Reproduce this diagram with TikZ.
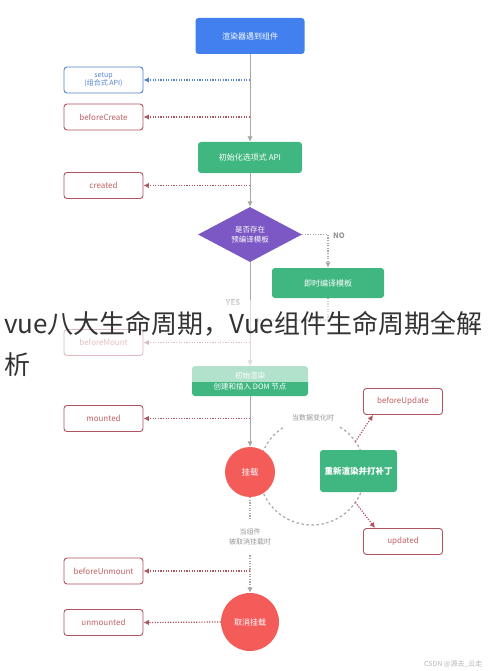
\documentclass[tikz,border=0pt]{standalone}
\usepackage{fontspec}
\setmainfont{Noto Sans CJK SC}
\usetikzlibrary{shapes.geometric,arrows.meta}

\definecolor{vueblue}{RGB}{66,128,240}
\definecolor{vuegreen}{RGB}{64,182,128}
\definecolor{vuepurple}{RGB}{124,88,196}
\definecolor{vuered}{RGB}{244,92,90}
\definecolor{hookred}{RGB}{176,84,96}
\definecolor{hooktext}{RGB}{196,96,100}
\definecolor{setupblue}{RGB}{84,130,208}
\definecolor{flowgray}{RGB}{168,168,168}
\definecolor{notegray}{RGB}{150,150,150}

\begin{document}
\begin{tikzpicture}[x=1pt, y=-1pt,
    >={Latex[length=5.5pt,width=5.5pt]},
    stage/.style={rounded corners=3pt, text=white, align=center, inner sep=0pt,
        font=\fontsize{8}{11}\selectfont},
    decision/.style={diamond, aspect=1.9, fill=vuepurple, text=white, align=center,
        inner sep=0pt, minimum width=104pt, minimum height=55pt,
        font=\fontsize{7.5}{10}\selectfont},
    event/.style={circle, fill=vuered, text=white, inner sep=0pt},
    hook/.style={draw=hookred, line width=0.9pt, rounded corners=3pt, fill=white,
        minimum width=79pt, minimum height=26pt, text=hooktext, align=center,
        inner sep=0pt, font=\fontsize{8}{9.5}\selectfont},
    flow/.style={flowgray, line width=0.9pt, ->},
    noteline/.style={flowgray, line width=1.2pt, dash pattern=on 1.2pt off 1.4pt},
    hookline/.style={hookred, line width=1.2pt, dash pattern=on 1.2pt off 1.4pt, ->},
    loopline/.style={flowgray, line width=1.2pt, dash pattern=on 2.5pt off 2.5pt},
    note/.style={text=notegray, align=center, font=\fontsize{7}{10}\selectfont}]
    \useasboundingbox (0,0) rectangle (490,671);

    % Draw the update loop
    \coordinate (loopc) at (312,472);
    \draw[loopline] (loopc) ++(58:53pt) arc[start angle=58, end angle=-237, radius=53pt];
    \coordinate (tobu) at ([shift={(35:53pt)}]loopc);
    \coordinate (toup) at ([shift={(-35:53pt)}]loopc);

    % Draw the stages
    \node[stage, fill=vueblue, minimum width=109pt, minimum height=36pt] (meet) at (250,36) {渲染器遇到组件};
    \node[stage, fill=vuegreen, minimum width=104pt, minimum height=31pt] (initopt) at (250,157.5) {初始化选项式 API};
    \node[decision] (precomp) at (250,234.5) {是否存在\\预编译模板};
    \node[stage, fill=vuegreen, minimum width=112pt, minimum height=30pt] (jit) at (328,283) {即时编译模板};
    \node[stage, fill=vuegreen, minimum width=116pt, minimum height=30pt,
        font=\fontsize{7.5}{11}\selectfont] (render) at (250,381) {初始渲染\\创建和插入 DOM 节点};
    \node[event, minimum size=50pt, font=\fontsize{8.5}{10}\selectfont] (mount) at (250,472) {挂载};
    \node[stage, fill=vuegreen, minimum width=77pt, minimum height=42pt,
        font=\fontsize{8.5}{10}\selectfont\bfseries] (redraw) at (358.5,471) {重新渲染并打补丁};
    \node[event, minimum size=58pt, font=\fontsize{8}{10}\selectfont] (unmount) at (250,622) {取消挂载};

    % Draw the hooks
    \node[hook, draw=setupblue, text=setupblue, font=\fontsize{7}{8.5}\selectfont] (setup) at (103.5,80) {setup\\(组合式 API)};
    \node[hook] (beforecreate) at (103.5,117) {beforeCreate};
    \node[hook] (created) at (103.5,185.5) {created};
    \node[hook] (beforemount) at (103.5,342.5) {beforeMount};
    \node[hook] (mounted) at (103.5,418.5) {mounted};
    \node[hook] (beforeupdate) at (403,401.5) {beforeUpdate};
    \node[hook] (updated) at (403,541.5) {updated};
    \node[hook] (beforeunmount) at (103.5,571) {beforeUnmount};
    \node[hook] (unmounted) at (103.5,622.5) {unmounted};

    % Draw the labels
    \node[note, font=\fontsize{7.5}{9}\selectfont\bfseries] (nolabel) at (339,236) {NO};
    \node[note, font=\fontsize{7.5}{9}\selectfont\bfseries] (yeslabel) at (233,303) {YES};
    \node[note] (whenchange) at (313,418) {当数据变化时};
    \node[note, inner ysep=10pt] (whenunmount) at (250,537) {当组件\\被取消挂载时};
    \coordinate (joinmain) at (253,320);

    % Draw the main flow
    \draw[flow] (meet.south) -- (initopt.north);
    \draw[flow] (initopt.south) -- (precomp.north);
    \draw[flow] (precomp.south) -- (render.north);
    \draw[flow] (render.south) -- (mount.north);
    \draw[noteline, ->] (precomp.east) -| (jit.north);
    \draw[noteline, ->] (jit.south) |- (joinmain);
    \draw[noteline] (mount.south) -- (whenunmount.north);
    \draw[noteline, ->] (whenunmount.south) -- (unmount.north);

    % Draw the hook arrows
    \draw[hookline, setupblue] (setup.east -| meet.south) -- (setup.east);
    \draw[hookline] (beforecreate.east -| meet.south) -- (beforecreate.east);
    \draw[hookline] (created.east -| meet.south) -- (created.east);
    \draw[hookline] (beforemount.east -| meet.south) -- (beforemount.east);
    \draw[hookline] (mounted.east -| meet.south) -- (mounted.east);
    \draw[hookline] (beforeunmount.east -| meet.south) -- (beforeunmount.east);
    \draw[hookline] (unmount.west) -- (unmounted.east);
    \draw[hookline] (tobu) -- ([xshift=10pt]beforeupdate.south west);
    \draw[hookline] (toup) -- ([xshift=12pt]updated.north west);

    % Draw the title band
    \fill[white, opacity=0.6] (0,300) rectangle (490,382);
    \node[anchor=base west, text=black!80, inner sep=0pt, font=\fontsize{26}{30}\selectfont] (title) at (4,333) {vue八大生命周期，Vue组件生命周期全解};
    \node[anchor=base west, text=black!80, inner sep=0pt, font=\fontsize{26}{30}\selectfont] (titleend) at (4,374) {析};
    \node[anchor=east, text=notegray!70, font=\fontsize{7}{8}\selectfont] (credit) at (486,664) {CSDN @源去\_云走};
\end{tikzpicture}
\end{document}
